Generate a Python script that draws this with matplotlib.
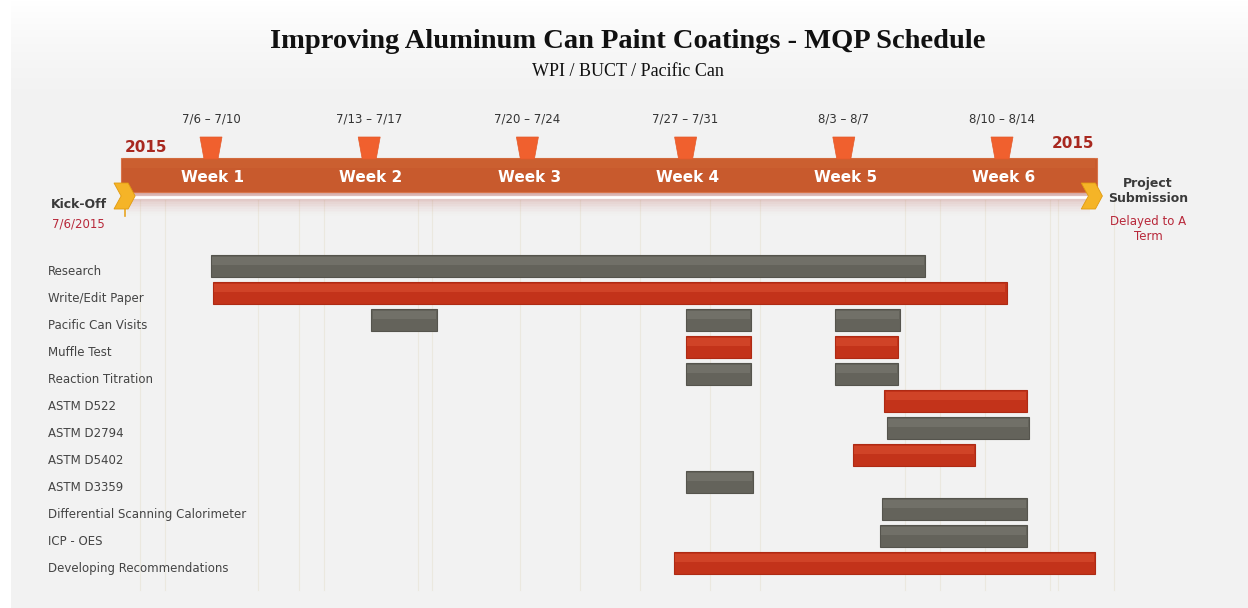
import matplotlib
matplotlib.use("Agg")
import matplotlib.pyplot as plt
import numpy as np
from matplotlib.patches import Polygon, Rectangle, FancyBboxPatch

# ---------------- data ----------------
tasks = ["Research", "Write/Edit Paper", "Pacific Can Visits", "Muffle Test",
         "Reaction Titration", "ASTM D522", "ASTM D2794", "ASTM D5402",
         "ASTM D3359", "Differential Scanning Calorimeter", "ICP - OES",
         "Developing Recommendations"]
# segments per task: (start day, end day) counted from 7/6/2015
task_segments = [
    [(0.0, 31.6)],
    [(0.1, 35.2)],
    [(7.1, 10.0), (21.0, 23.9), (27.6, 30.5)],
    [(21.0, 23.9), (27.6, 30.4)],
    [(21.0, 23.9), (27.6, 30.4)],
    [(29.8, 36.1)],
    [(29.9, 36.2)],
    [(28.4, 33.8)],
    [(21.0, 24.0)],
    [(29.7, 36.1)],
    [(29.6, 36.1)],
    [(20.5, 39.1)],
]
task_colors = ["gray", "red", "gray", "red", "gray", "red", "gray", "red",
               "gray", "gray", "gray", "red"]

week_labels = ["Week 1", "Week 2", "Week 3", "Week 4", "Week 5", "Week 6"]
week_ranges = ["7/6 – 7/10", "7/13 – 7/17", "7/20 – 7/24", "7/27 – 7/31",
               "8/3 – 8/7", "8/10 – 8/14"]
week_start_days = [0, 7, 14, 21, 28, 35]
timeline_start, timeline_end = -4.0, 39.2
kickoff_day, submission_day = -3.8, 39.0

title = "Improving Aluminum Can Paint Coatings - MQP Schedule"
subtitle = "WPI / BUCT / Pacific Can"

# ---------------- layout ----------------
W, H = 1248, 608
PX_DAY = 22.6
X0 = 211.0
ROW0, ROWH = 266.0, 27.0

def Y(py):
    return (py - ROW0) / ROWH

def XD(px):
    return (px - X0) / PX_DAY

fig = plt.figure(figsize=(W / 100, H / 100), dpi=100)
fig.patch.set_facecolor("#F2F2F2")
ax = fig.add_axes([0, 0, 1, 1])
ax.set_xlim(XD(0), XD(W))
ax.set_ylim(Y(H), Y(0))
ax.axis("off")
ax.set_facecolor("none")

# background: white left strip and top gradient
grad = np.linspace(1, 0, 100).reshape(-1, 1)
bg = np.ones((100, 1, 4))
bg[..., :3] = 1.0
bg[..., 3] = grad[:, :] ** 1.5
ax.imshow(bg, extent=(XD(0), XD(W), Y(110), Y(0)), aspect="auto", zorder=0)
ax.add_patch(Rectangle((XD(0), Y(H)), XD(11) - XD(0), Y(0) - Y(H),
                       facecolor="white", edgecolor="none", zorder=0.5))

# faint decorative vertical lines
for px in [140, 165, 258, 299, 324, 418, 432, 520, 580, 640, 710, 760, 905, 940,
           985, 1050, 1058, 1114]:
    ax.plot([XD(px), XD(px)], [Y(200), Y(590)], color="#EBE8DF", lw=0.8, zorder=0.6)

# ---------------- header ----------------
fig.text(628 / W, 1 - 42 / H, title, ha="center", va="center",
         fontfamily="Liberation Serif", fontweight="bold", fontsize=20.5, color="#111111")
fig.text(628 / W, 1 - 72 / H, subtitle, ha="center", va="center",
         fontfamily="Liberation Serif", fontsize=13, color="#111111")

# timeline shadow
for k in range(14):
    ax.add_patch(Rectangle((timeline_start + 0.3, Y(192 + k * 1.7)),
                           timeline_end - timeline_start - 0.6, 1.7 / ROWH,
                           facecolor="#C27670", alpha=0.55 * (1 - k / 14) ** 1.6,
                           edgecolor="none", zorder=1))
ax.plot([kickoff_day, submission_day], [Y(197), Y(197)], color="white", lw=2, zorder=1.2)

# timeline bar
ax.add_patch(Rectangle((timeline_start, Y(192)), timeline_end - timeline_start,
                       Y(158) - Y(192), facecolor="#C85A2D", edgecolor="#D8744A",
                       lw=0.8, zorder=2))
ax.add_patch(Rectangle((timeline_start + 0.1, Y(168)), timeline_end - timeline_start - 0.2,
                       Y(158) - Y(168), facecolor="#CF6434", alpha=0.5,
                       edgecolor="none", zorder=2.1))

for d, wl, wr in zip(week_start_days, week_labels, week_ranges):
    tw, bw = 11 / PX_DAY, 7 / PX_DAY
    ax.add_patch(Polygon([(d - tw, Y(137)), (d + tw, Y(137)), (d + bw, Y(159)),
                          (d - bw, Y(159))], closed=True, facecolor="#F0602E",
                         edgecolor="#E45A2A", lw=0.5, zorder=3))
    ax.text(d + 0.08, Y(177), wl, ha="center", va="center", color="white",
            fontweight="bold", fontsize=11, fontfamily="DejaVu Sans", zorder=4)
    ax.text(d, Y(119), wr, ha="center", va="center", color="#333333",
            fontsize=8.5, fontfamily="DejaVu Sans", zorder=4)

ax.text(XD(146), Y(148), "2015", ha="center", va="center", color="#A8281F",
        fontweight="bold", fontsize=11, fontfamily="DejaVu Sans", zorder=4)
ax.text(XD(1073), Y(144), "2015", ha="center", va="center", color="#A8281F",
        fontweight="bold", fontsize=11, fontfamily="DejaVu Sans", zorder=4)

# milestone chevrons
def chevron(xd, yc):
    w1, w2 = 13 / PX_DAY, 20 / PX_DAY
    n = 6 / PX_DAY
    hh = 13 / ROWH
    pts = [(xd - w2 / 2 - 0.05, yc - hh), (xd + w1 - w2 / 2, yc - hh), (xd + w2 / 2, yc),
           (xd + w1 - w2 / 2, yc + hh), (xd - w2 / 2 - 0.05, yc + hh), (xd - w2 / 2 + n, yc)]
    ax.add_patch(Polygon(pts, closed=True, facecolor="#F5B427", edgecolor="#E09A10",
                         lw=0.6, zorder=5))

chevron(kickoff_day, Y(196))
ax.plot([kickoff_day, kickoff_day], [Y(205), Y(216)], color="#E8A520", lw=1.2, zorder=4.9)
chevron(submission_day, Y(196))

ax.text(XD(79), Y(205), "Kick-Off", ha="center", va="center", color="#3A3A3A",
        fontweight="bold", fontsize=9, fontfamily="DejaVu Sans")
ax.text(XD(78), Y(224), "7/6/2015", ha="center", va="center", color="#B8283A",
        fontsize=8.5, fontfamily="DejaVu Sans")
ax.text(XD(1148), Y(191), "Project\nSubmission", ha="center", va="center",
        color="#3A3A3A", fontweight="bold", fontsize=9, fontfamily="DejaVu Sans",
        linespacing=1.15)
ax.text(XD(1148), Y(229), "Delayed to A\nTerm", ha="center", va="center",
        color="#B8283A", fontsize=8.5, fontfamily="DejaVu Sans", linespacing=1.2)

# ---------------- tasks ----------------
palette = {"gray": ("#64635B", "#7A7971", "#55544D"),
           "red": ("#C3331A", "#DA4E30", "#AE2A14")}
bar_h = 0.78
for i, (name, segs, c) in enumerate(zip(tasks, task_segments, task_colors)):
    base, hi, edge = palette[c]
    starts = [s for s, e in segs]
    widths = [e - s for s, e in segs]
    ax.barh([i] * len(segs), widths, left=starts, height=bar_h, color=base,
            edgecolor=edge, linewidth=0.8, zorder=6)
    ax.barh([i - bar_h * 0.25] * len(segs), [w - 0.1 for w in widths],
            left=[s + 0.05 for s in starts], height=bar_h * 0.4, color=hi,
            edgecolor="none", alpha=0.6, zorder=6.5)
    ax.text(XD(48), i + 0.2, name, ha="left", va="center", color="#444444",
            fontsize=8.5, fontfamily="DejaVu Sans", zorder=6)

fig.savefig("out.png", dpi=100, facecolor=fig.get_facecolor())
